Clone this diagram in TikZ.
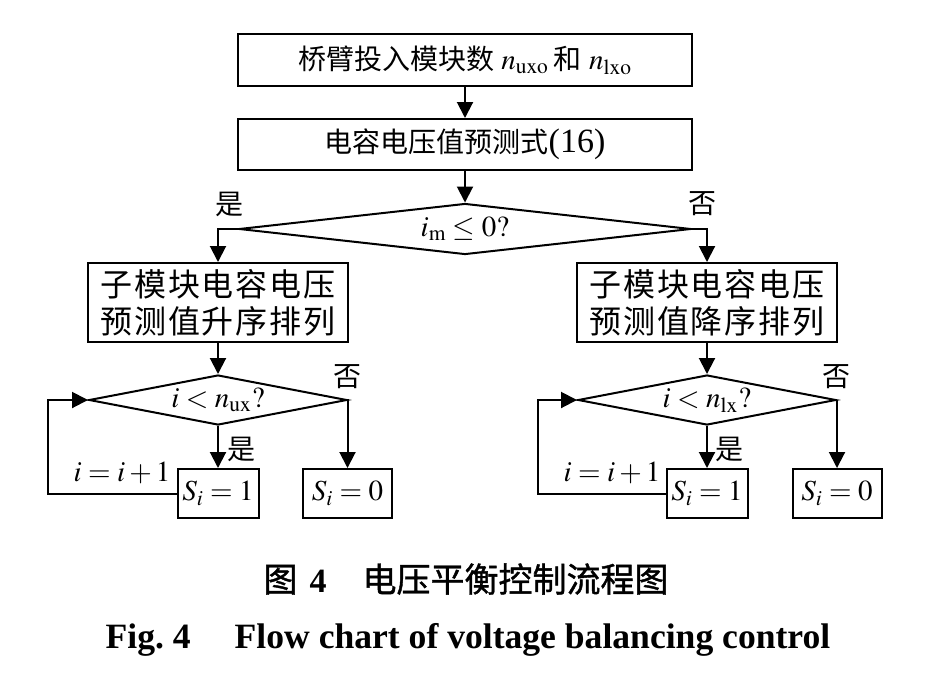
\documentclass[tikz,border=0pt]{standalone}
\usepackage{mathptmx}
\usepackage{fontspec}
\setmainfont{Liberation Serif}
\newfontfamily\cjk{Noto Sans CJK SC}
\newfontfamily\cjkwide{Noto Sans CJK SC}[LetterSpace=6]
\newfontfamily\cjkheavy{Noto Sans CJK SC}[FakeBold=1.2]
\usetikzlibrary{arrows.meta,shapes.geometric}

\begin{document}
\begin{tikzpicture}[x=0.5pt, y=-0.5pt,
    every node/.style={
        inner sep=0pt,
        font=\fontsize{14.5}{17}\selectfont
    },
    box/.style={rectangle, draw, line width=1pt},
    decision/.style={diamond, draw, line width=1pt, aspect=5},
    mark_cn/.style={font=\cjk\fontsize{14}{17}\selectfont},
    flow/.style={-{Triangle[length=8pt,width=8pt]}, line width=1pt}
]

    \useasboundingbox (0,0) rectangle (940,675);



    \node (arm_module_count) [box, minimum width=227pt, minimum height=26pt, shift={(465,60)}]
    {
        {\cjk\fontsize{14}{17}\selectfont 桥臂投入模块数} $n_{\mathrm{uxo}}$\,{\cjk\fontsize{14}{17}\selectfont 和} $n_{\mathrm{lxo}}$
    };

    \node (capacitor_voltage_prediction) [box, minimum width=227pt, minimum height=25.5pt, shift={(465,144.5)}]
    {
        {\cjk\fontsize{14}{17}\selectfont 电容电压值预测式}{\fontsize{17}{17}\selectfont(16)}
    };

    \node (current_sign_check) [decision, minimum width=226pt, minimum height=25.5pt, shift={(465,229)}]
    {
        $i_{\mathrm{m}}\le 0?$
    };





    \node (ascending_sort) [box, align=center, font=\cjkwide\fontsize{16}{18.5}\selectfont, minimum width=130pt, minimum height=39.5pt, shift={(218,302.5)}]
    {
        子模块电容电压\\预测值升序排列
    };

    \node (upper_count_check) [decision, minimum width=129pt, minimum height=25pt, shift={(218,400)}]
    {
        $i<n_{\mathrm{ux}}?$
    };

    \node (upper_switch_on) [box, minimum width=40.5pt, minimum height=24.5pt, shift={(218,493.5)}]
    {
        $S_i=1$
    };

    \node (upper_switch_off) [box, minimum width=44.5pt, minimum height=24.5pt, shift={(347.5,493.5)}]
    {
        $S_i=0$
    };

    \node (upper_increment) [shift={(122,473)}]
    {
        $i=i+1$
    };

    \coordinate (upper_loop) at (48,493.5);





    \node (descending_sort) [box, align=center, font=\cjkwide\fontsize{16}{18.5}\selectfont, minimum width=130pt, minimum height=39.5pt, shift={(707,302.5)}]
    {
        子模块电容电压\\预测值降序排列
    };

    \node (lower_count_check) [decision, minimum width=129pt, minimum height=25pt, shift={(707,400)}]
    {
        $i<n_{\mathrm{lx}}?$
    };

    \node (lower_switch_on) [box, minimum width=40.5pt, minimum height=24.5pt, shift={(707,493.5)}]
    {
        $S_i=1$
    };

    \node (lower_switch_off) [box, minimum width=44.5pt, minimum height=24.5pt, shift={(837,493.5)}]
    {
        $S_i=0$
    };

    \node (lower_increment) [shift={(612,473)}]
    {
        $i=i+1$
    };

    \coordinate (lower_loop) at (538,493.5);





    \node (yes_sign) [mark_cn, shift={(229,204)}] {是};
    \node (no_sign) [mark_cn, shift={(702,204)}] {否};
    \node (yes_upper) [mark_cn, shift={(241,449)}] {是};
    \node (no_upper) [mark_cn, shift={(347,377)}] {否};
    \node (yes_lower) [mark_cn, shift={(729,449)}] {是};
    \node (no_lower) [mark_cn, shift={(836,377)}] {否};



    \node (caption_cn) [font=\cjkheavy\fontsize{17}{20}\selectfont, anchor=base, shift={(466,592)}]
    {
        图\hspace{6pt}{\rmfamily\bfseries 4}\hspace{18pt}电压平衡控制流程图
    };

    \node (caption_en) [font=\bfseries\fontsize{17.8}{20}\selectfont, anchor=base, shift={(468,648)}]
    {
        Fig.~4\hspace{22pt}Flow chart of voltage balancing control
    };


    \draw[flow] (arm_module_count) to (capacitor_voltage_prediction);
    \draw[flow] (capacitor_voltage_prediction) to (current_sign_check);
    \draw[flow] (current_sign_check.west) -| (ascending_sort.north);
    \draw[flow] (current_sign_check.east) -| (descending_sort.north);

    \draw[flow] (ascending_sort) to (upper_count_check);
    \draw[flow] (upper_count_check) to (upper_switch_on);
    \draw[flow] (upper_count_check.east) -| (upper_switch_off.north);
    \draw[flow] (upper_switch_on.west) -- (upper_loop) |- (upper_count_check.west);

    \draw[flow] (descending_sort) to (lower_count_check);
    \draw[flow] (lower_count_check) to (lower_switch_on);
    \draw[flow] (lower_count_check.east) -| (lower_switch_off.north);
    \draw[flow] (lower_switch_on.west) -- (lower_loop) |- (lower_count_check.west);


\end{tikzpicture}
\end{document}
